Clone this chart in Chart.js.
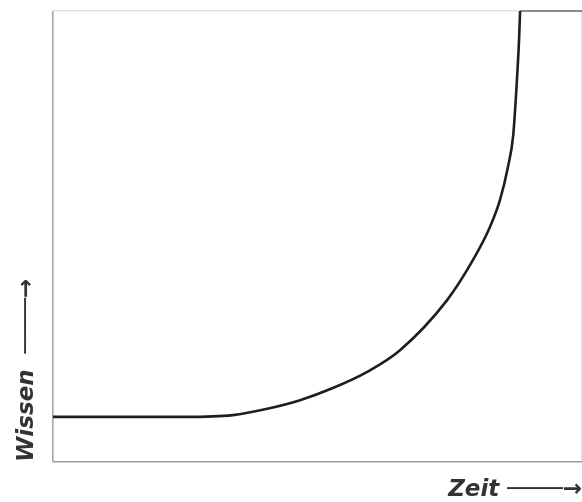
<!DOCTYPE html>
<html>
<head>
<meta charset="utf-8">
<script src="https://cdn.jsdelivr.net/npm/chart.js@4"></script>
<style>
html,body{margin:0;padding:0;background:#fff;}
#wrap{width:582px;height:502px;}
</style>
</head>
<body>
<div id="wrap"><canvas id="c"></canvas></div>
<script>
// Curve: Wissen (knowledge) over Zeit (time) (0..100 scale)
const zeit   = [0, 25, 34.0, 40.5, 46.7, 52.9, 59.4, 65.6, 74.5, 79.4, 82.6, 84.5, 86.0, 87.0, 87.7, 88.1, 88.3];
const wissen = [10, 10, 10.4, 11.8, 13.7, 16.4, 20.0, 24.8, 35.9, 44.8, 52.1, 58.1, 65.4, 72.5, 84.7, 93.6, 100];
// Top plateau segment after reaching the maximum
const topZeit   = [88.3, 100];
const topWissen = [100, 100];
const xTitle = 'Zeit ────→';
const yTitle = 'Wissen  ────→';

const curve = zeit.map((x, i) => ({x, y: wissen[i]}));
const plateau = topZeit.map((x, i) => ({x, y: topWissen[i]}));

new Chart(document.getElementById('c'), {
  type: 'scatter',
  data: {
    datasets: [
      {data: curve, showLine: true, borderColor: '#1e1e1e', borderWidth: 2.6, pointRadius: 0,
       cubicInterpolationMode: 'monotone', clip: false},
      {data: plateau, showLine: true, borderColor: '#8a8a8a', borderWidth: 2, pointRadius: 0, clip: false}
    ]
  },
  options: {
    responsive: true,
    maintainAspectRatio: false,
    animation: false,
    devicePixelRatio: 1,
    layout: {padding: {top: 11, right: 0, left: 0, bottom: 0}},
    plugins: {legend: {display: false}, tooltip: {enabled: false}},
    scales: {
      x: {
        type: 'linear', min: 0, max: 100,
        afterBuildTicks: a => { a.ticks = [{value: 0}, {value: 100}]; },
        afterFit: a => { a.height = 40; },
        ticks: {display: false},
        border: {display: false},
        grid: {drawTicks: false, lineWidth: 1.6,
               color: c => c.tick && c.tick.value === 0 ? '#a8a8a8' : '#e2e2e2'},
        title: {display: true, text: xTitle, align: 'end', color: '#333',
                font: {family: 'DejaVu Sans', size: 23, weight: 'bold', style: 'italic', lineHeight: 1},
                padding: {top: 0, bottom: 0.5}}
      },
      y: {
        type: 'linear', min: 0, max: 100,
        afterBuildTicks: a => { a.ticks = [{value: 0}, {value: 100}]; },
        afterFit: a => { a.width = 53; },
        ticks: {display: false},
        border: {display: false},
        grid: {drawTicks: false, lineWidth: 1.6,
               color: c => c.tick && c.tick.value === 0 ? '#9c9c9c' : '#e0e0e0'},
        title: {display: true, text: yTitle, align: 'start', color: '#333',
                font: {family: 'DejaVu Sans', size: 23, weight: 'bold', style: 'italic', lineHeight: 1},
                padding: {top: 15.5, bottom: 0}}
      }
    }
  }
});
</script>
</body>
</html>
